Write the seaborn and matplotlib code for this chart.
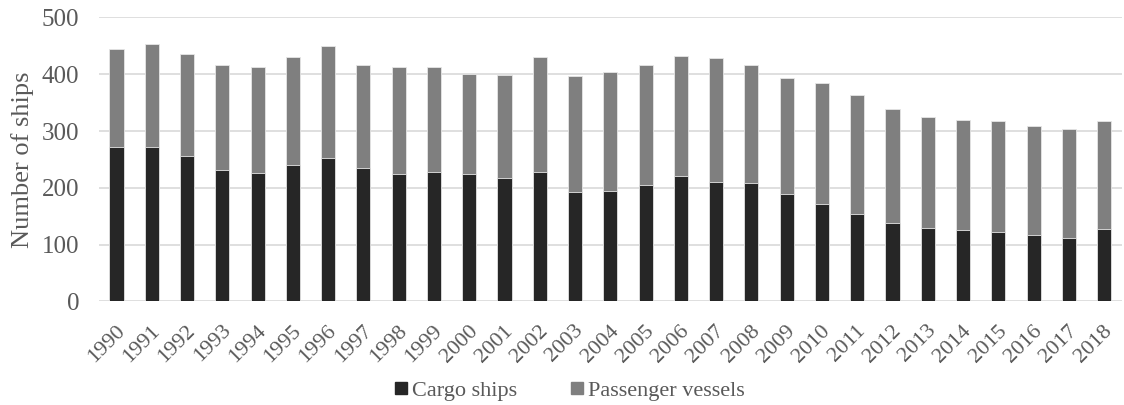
import matplotlib
matplotlib.use("Agg")
import matplotlib.pyplot as plt
from matplotlib.lines import Line2D
import matplotlib.transforms as mtransforms
import seaborn as sns
import pandas as pd

years = [str(y) for y in range(1990, 2019)]
cargo_ships = [272, 272, 257, 231, 227, 241, 253, 235, 225, 228,
               224, 218, 228, 193, 195, 205, 221, 211, 208, 190,
               172, 154, 139, 130, 126, 123, 117, 112, 128]
passenger_vessels = [173, 182, 178, 186, 186, 189, 197, 182, 187, 184,
                     177, 181, 202, 204, 209, 212, 211, 217, 209, 204,
                     212, 209, 200, 195, 193, 195, 192, 192, 189]
y_ticks = [0, 100, 200, 300, 400, 500]

df = pd.DataFrame({"year": years, "cargo": cargo_ships, "passenger": passenger_vessels})
df["total"] = df["cargo"] + df["passenger"]

sns.set_style("white")
plt.rcParams["font.family"] = ["Liberation Serif", "DejaVu Serif"]
text_color = "#595959"
cargo_color = "#262626"
passenger_color = "#7f7f7f"
grid_color = "#d9d9d9"

fig = plt.figure(figsize=(11.24, 4.05), dpi=100)
ax = fig.add_axes([0.088, 0.2556, 0.910, 0.7012])

# stacked bars: the full stack in grey, cargo drawn over its lower part
sns.barplot(data=df, x="year", y="total", color=passenger_color, saturation=1,
            width=0.4, edgecolor="#e6e6e6", linewidth=0.6, ax=ax, zorder=3)
sns.barplot(data=df, x="year", y="cargo", color=cargo_color, saturation=1,
            width=0.4, edgecolor="#e6e6e6", linewidth=0.6, ax=ax, zorder=4)

ax.set_ylim(0, 500)
ax.set_xlim(-0.5, len(years) - 0.5)
ax.set_yticks(y_ticks)
ax.set_yticklabels([str(t) for t in y_ticks], fontsize=18, color=text_color)
for t in y_ticks:
    ax.axhline(t, color=grid_color, linewidth=1.2, zorder=1)
for s in ax.spines.values():
    s.set_visible(False)
ax.tick_params(axis="y", length=0, pad=14)
ax.tick_params(axis="x", length=0, pad=0)

ax.set_xlabel("")
ax.set_ylabel("Number of ships", fontsize=19, color=text_color, labelpad=6)

offset = mtransforms.ScaledTranslation(4 / 72, -19 / 72, fig.dpi_scale_trans)
for lab in ax.get_xticklabels():
    lab.set_rotation(45)
    lab.set_ha("right")
    lab.set_va("center")
    lab.set_rotation_mode("anchor")
    lab.set_fontsize(16)
    lab.set_color(text_color)
    lab.set_transform(lab.get_transform() + offset)

handles = [
    Line2D([], [], marker="s", linestyle="none", markersize=8,
           markerfacecolor=cargo_color, markeredgecolor=cargo_color, label="Cargo ships"),
    Line2D([], [], marker="s", linestyle="none", markersize=8,
           markerfacecolor=passenger_color, markeredgecolor=passenger_color, label="Passenger vessels"),
]
leg = fig.legend(handles=handles, loc="center", bbox_to_anchor=(0.505, 0.036), ncol=2,
                 frameon=False, fontsize=16, handletextpad=0.0, columnspacing=2.2,
                 handlelength=1.0)
for t in leg.get_texts():
    t.set_color(text_color)

fig.savefig("out.png", dpi=100)
